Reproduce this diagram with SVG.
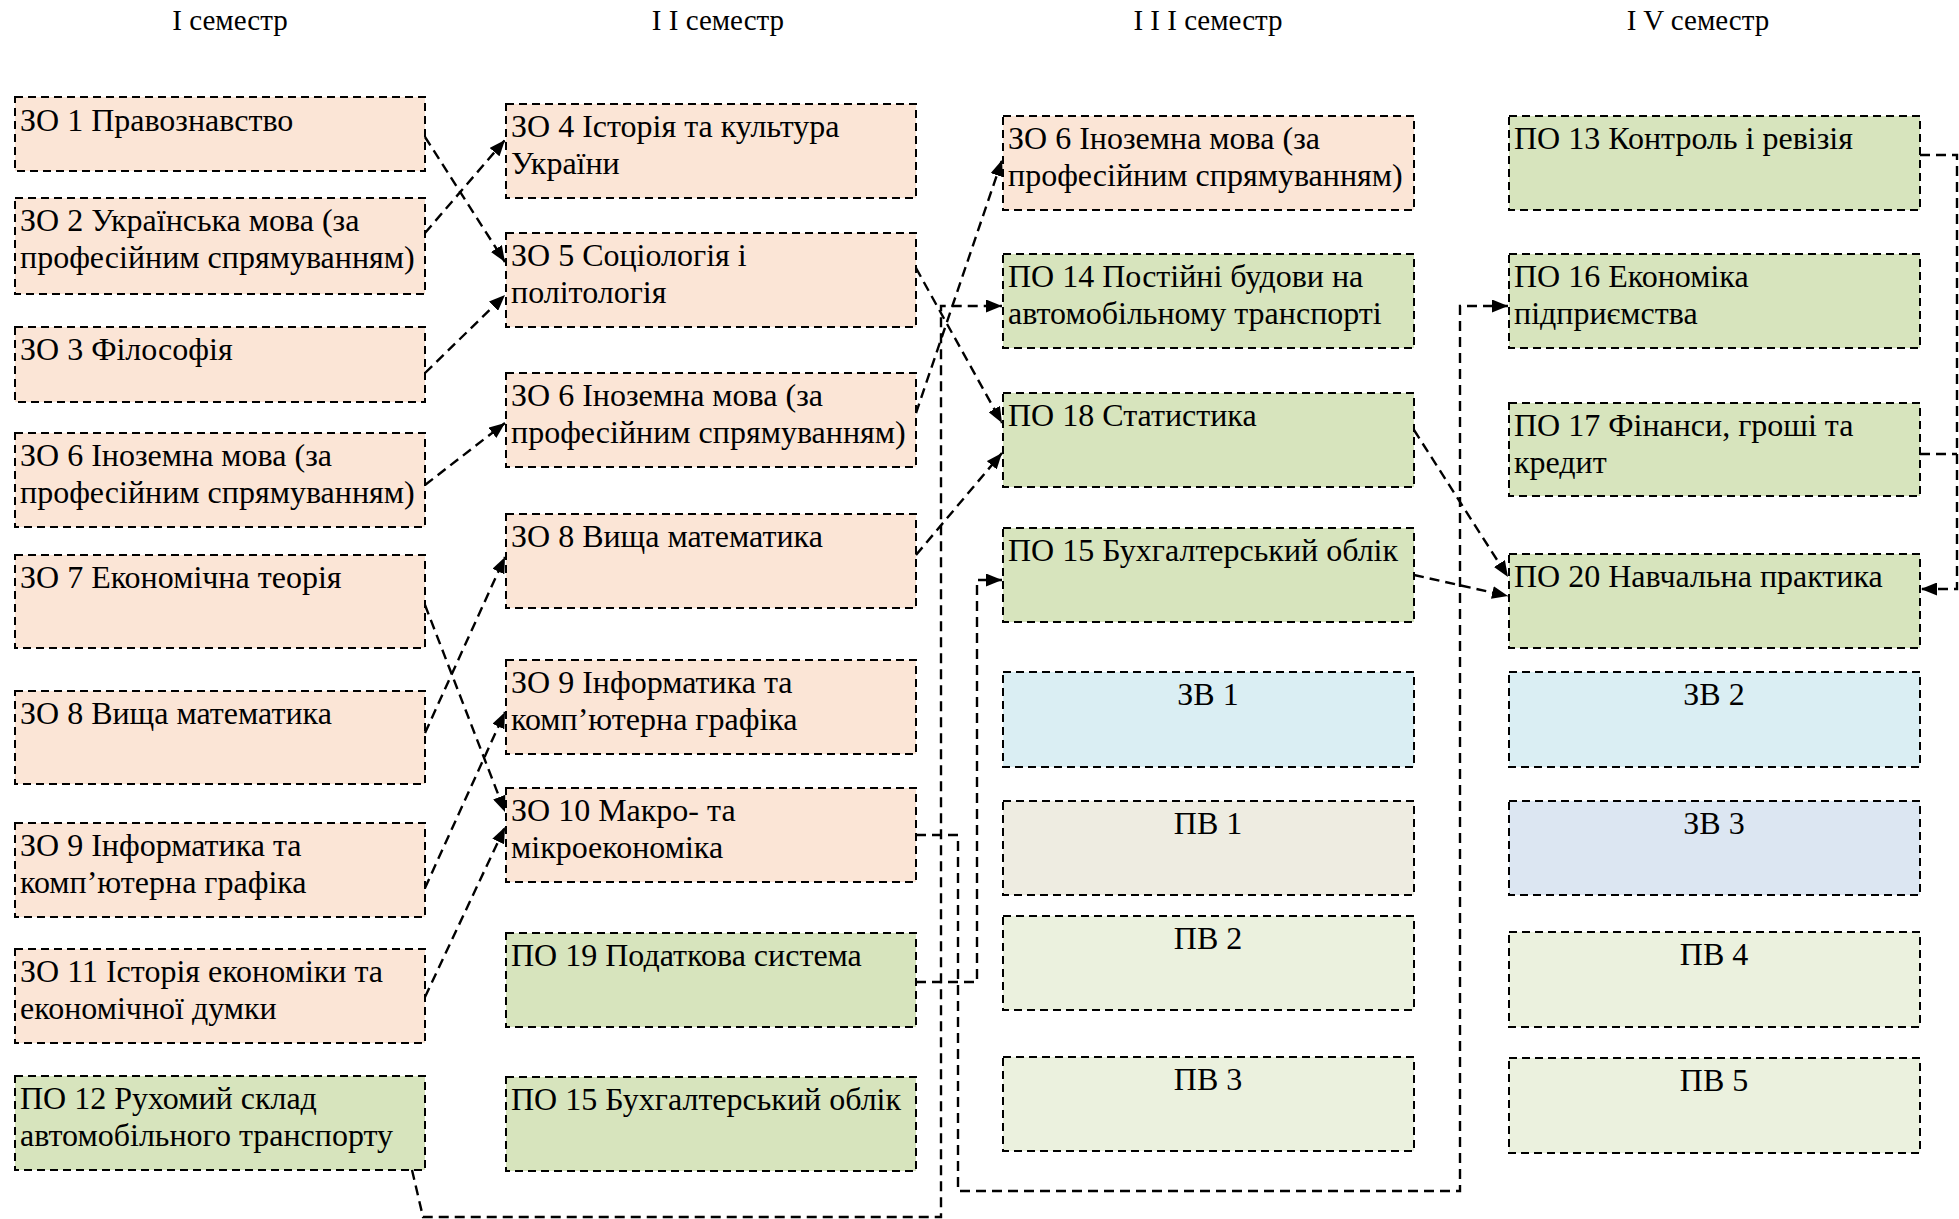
<svg xmlns="http://www.w3.org/2000/svg" width="1959" height="1219" viewBox="0 0 1959 1219">
<style>
.b{stroke:#000;stroke-width:2;stroke-dasharray:8 5}
.zo{fill:#FBE5D6}
.po{fill:#D7E4BD}
.zv1{fill:#DAEEF3}
.pv1{fill:#EEECE1}
.pv{fill:#EBF1DE}
.zv3{fill:#DCE6F2}
text{font-family:"Liberation Serif","Times New Roman",serif;font-size:32px;fill:#000}
.c{text-anchor:middle}
.h{font-size:29px;text-anchor:middle}
.cn path{fill:none;stroke:#000;stroke-width:2.4;stroke-dasharray:10 6}
</style>
<defs>
<marker id="a" markerUnits="userSpaceOnUse" markerWidth="17" markerHeight="13" refX="16" refY="6.5" orient="auto">
<path d="M0,0 L16,6.5 L0,13 z" fill="#000"/>
</marker>
</defs>
<rect width="1959" height="1219" fill="#fff"/>
<g id="titles">
<text class="h" x="230" y="30">I семестр</text>
<text class="h" x="718" y="30">I I семестр</text>
<text class="h" x="1208" y="30">I I I семестр</text>
<text class="h" x="1698" y="30">I V семестр</text>
</g>
<g id="zo1"><rect class="b zo" x="15" y="97" width="410" height="74"/><text x="20" y="131">ЗО 1 Правознавство</text></g>
<g id="zo2"><rect class="b zo" x="15" y="198" width="410" height="96"/><text x="20" y="231">ЗО 2 Українська мова (за<tspan x="20" y="268">професійним спрямуванням)</tspan></text></g>
<g id="zo3"><rect class="b zo" x="15" y="327" width="410" height="75"/><text x="20" y="360">ЗО 3 Філософія</text></g>
<g id="zo6a"><rect class="b zo" x="15" y="433" width="410" height="94"/><text x="20" y="466">ЗО 6 Іноземна мова (за<tspan x="20" y="503">професійним спрямуванням)</tspan></text></g>
<g id="zo7"><rect class="b zo" x="15" y="555" width="410" height="93"/><text x="20" y="588">ЗО 7 Економічна теорія</text></g>
<g id="zo8a"><rect class="b zo" x="15" y="691" width="410" height="93"/><text x="20" y="724">ЗО 8 Вища математика</text></g>
<g id="zo9a"><rect class="b zo" x="15" y="823" width="410" height="94"/><text x="20" y="856">ЗО 9 Інформатика та<tspan x="20" y="893">комп’ютерна графіка</tspan></text></g>
<g id="zo11"><rect class="b zo" x="15" y="949" width="410" height="94"/><text x="20" y="982">ЗО 11 Історія економіки та<tspan x="20" y="1019">економічної думки</tspan></text></g>
<g id="po12"><rect class="b po" x="15" y="1076" width="410" height="94"/><text x="20" y="1109">ПО 12 Рухомий склад<tspan x="20" y="1146">автомобільного транспорту</tspan></text></g>

<g id="zo4"><rect class="b zo" x="506" y="104" width="410" height="94"/><text x="511" y="137">ЗО 4 Історія та культура<tspan x="511" y="174">України</tspan></text></g>
<g id="zo5"><rect class="b zo" x="506" y="233" width="410" height="94"/><text x="511" y="266">ЗО 5 Соціологія і<tspan x="511" y="303">політологія</tspan></text></g>
<g id="zo6b"><rect class="b zo" x="506" y="373" width="410" height="94"/><text x="511" y="406">ЗО 6 Іноземна мова (за<tspan x="511" y="443">професійним спрямуванням)</tspan></text></g>
<g id="zo8b"><rect class="b zo" x="506" y="514" width="410" height="94"/><text x="511" y="547">ЗО 8 Вища математика</text></g>
<g id="zo9b"><rect class="b zo" x="506" y="660" width="410" height="94"/><text x="511" y="693">ЗО 9 Інформатика та<tspan x="511" y="730">комп’ютерна графіка</tspan></text></g>
<g id="zo10"><rect class="b zo" x="506" y="788" width="410" height="94"/><text x="511" y="821">ЗО 10 Макро- та<tspan x="511" y="858">мікроекономіка</tspan></text></g>
<g id="po19"><rect class="b po" x="506" y="933" width="410" height="94"/><text x="511" y="966">ПО 19 Податкова система</text></g>
<g id="po15b"><rect class="b po" x="506" y="1077" width="410" height="94"/><text x="511" y="1110">ПО 15 Бухгалтерський облік</text></g>

<g id="zo6c"><rect class="b zo" x="1003" y="116" width="411" height="94"/><text x="1008" y="149">ЗО 6 Іноземна мова (за<tspan x="1008" y="186">професійним спрямуванням)</tspan></text></g>
<g id="po14"><rect class="b po" x="1003" y="254" width="411" height="94"/><text x="1008" y="287">ПО 14 Постійні будови на<tspan x="1008" y="324">автомобільному транспорті</tspan></text></g>
<g id="po18"><rect class="b po" x="1003" y="393" width="411" height="94"/><text x="1008" y="426">ПО 18 Статистика</text></g>
<g id="po15c"><rect class="b po" x="1003" y="528" width="411" height="94"/><text x="1008" y="561">ПО 15 Бухгалтерський облік</text></g>
<g id="zv1"><rect class="b zv1" x="1003" y="672" width="411" height="95"/><text class="c" x="1208" y="705">ЗВ 1</text></g>
<g id="pv1"><rect class="b pv1" x="1003" y="801" width="411" height="94"/><text class="c" x="1208" y="834">ПВ 1</text></g>
<g id="pv2"><rect class="b pv" x="1003" y="916" width="411" height="94"/><text class="c" x="1208" y="949">ПВ 2</text></g>
<g id="pv3"><rect class="b pv" x="1003" y="1057" width="411" height="94"/><text class="c" x="1208" y="1090">ПВ 3</text></g>

<g id="po13"><rect class="b po" x="1509" y="116" width="411" height="94"/><text x="1514" y="149">ПО 13 Контроль і ревізія</text></g>
<g id="po16"><rect class="b po" x="1509" y="254" width="411" height="94"/><text x="1514" y="287">ПО 16 Економіка<tspan x="1514" y="324">підприємства</tspan></text></g>
<g id="po17"><rect class="b po" x="1509" y="403" width="411" height="93"/><text x="1514" y="436">ПО 17 Фінанси, гроші та<tspan x="1514" y="473">кредит</tspan></text></g>
<g id="po20"><rect class="b po" x="1509" y="554" width="411" height="94"/><text x="1514" y="587">ПО 20 Навчальна практика</text></g>
<g id="zv2"><rect class="b zv1" x="1509" y="672" width="411" height="95"/><text class="c" x="1714" y="705">ЗВ 2</text></g>
<g id="zv3"><rect class="b zv3" x="1509" y="801" width="411" height="94"/><text class="c" x="1714" y="834">ЗВ 3</text></g>
<g id="pv4"><rect class="b pv" x="1509" y="932" width="411" height="95"/><text class="c" x="1714" y="965">ПВ 4</text></g>
<g id="pv5"><rect class="b pv" x="1509" y="1058" width="411" height="95"/><text class="c" x="1714" y="1091">ПВ 5</text></g>

<g id="connectors" class="cn">
<path d="M425,137 L505,262" marker-end="url(#a)"/>
<path d="M425,233 L505,140" marker-end="url(#a)"/>
<path d="M425,373 L505,295" marker-end="url(#a)"/>
<path d="M425,485 L505,423" marker-end="url(#a)"/>
<path d="M425,605 L505,812" marker-end="url(#a)"/>
<path d="M425,733 L505,557" marker-end="url(#a)"/>
<path d="M425,888 L505,712" marker-end="url(#a)"/>
<path d="M425,997 L505,827" marker-end="url(#a)"/>
<path d="M412,1170 L423,1217 L941,1217 L941,306 L1002,306" marker-end="url(#a)"/>
<path d="M916,268 L1002,423" marker-end="url(#a)"/>
<path d="M916,413 L1002,160" marker-end="url(#a)"/>
<path d="M916,555 L1002,453" marker-end="url(#a)"/>
<path d="M916,835 L958,835 L958,1191 L1460,1191 L1460,306 L1508,306" marker-end="url(#a)"/>
<path d="M916,982 L977,982 L977,580 L1002,580" marker-end="url(#a)"/>
<path d="M1414,430 L1508,577" marker-end="url(#a)"/>
<path d="M1414,575 L1508,596" marker-end="url(#a)"/>
<path d="M1920,155 L1957,155 L1957,589 L1921,589" marker-end="url(#a)"/>
<path d="M1920,454 L1957,454"/>
</g>
</svg>
